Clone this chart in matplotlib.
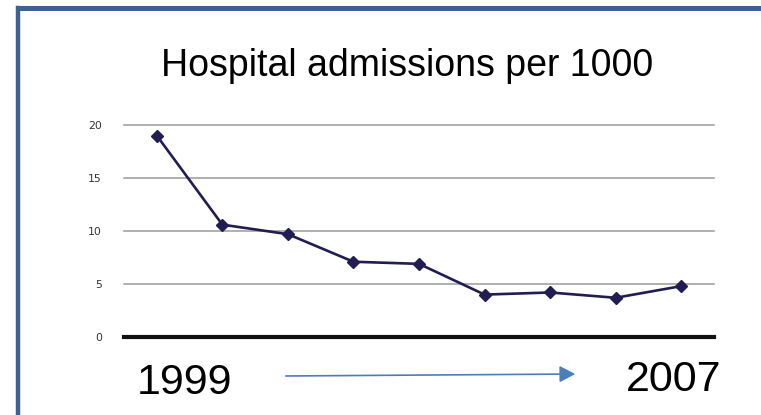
import matplotlib
matplotlib.use("Agg")
import matplotlib.pyplot as plt
from matplotlib.patches import FancyArrowPatch
from matplotlib.lines import Line2D

# Hospital admissions per 1000, yearly from 1999 to 2007
years = [1999, 2000, 2001, 2002, 2003, 2004, 2005, 2006, 2007]
admissions = [19.0, 10.6, 9.7, 7.1, 6.9, 4.0, 4.2, 3.7, 4.8]
y_ticks = [0, 5, 10, 15, 20]

W, H = 761, 415
fig = plt.figure(figsize=(W / 100, H / 100), dpi=100)
fig.patch.set_facecolor("white")

# frame around the slide
frame_col = "#3c6193"
fig.add_artist(Line2D([18 / W, 18 / W], [0, 1 - 8 / H], transform=fig.transFigure,
                      color=frame_col, lw=3.2, solid_capstyle="projecting"))
fig.add_artist(Line2D([18 / W, 1.01], [1 - 8.5 / H, 1 - 8.5 / H], transform=fig.transFigure,
                      color=frame_col, lw=3.6, solid_capstyle="projecting"))

left, right, top, bottom = 124, 714, 125, 337
ax = fig.add_axes([left / W, 1 - bottom / H, (right - left) / W, (bottom - top) / H])
x = list(range(len(years)))
ax.set_xlim(-0.5, len(years) - 0.5)
ax.set_ylim(0, 20)

for v in y_ticks[1:]:
    ax.axhline(v, color="#9a9a9a", lw=1.1, zorder=1, clip_on=False)
ax.axhline(0, color="#111111", lw=3.0, zorder=2, clip_on=False)

ax.plot(x, admissions, color="#211d52", lw=1.9, marker="D", markersize=6,
        markerfacecolor="#211d52", markeredgecolor="#211d52", zorder=3, clip_on=False)

for s in ax.spines.values():
    s.set_visible(False)
ax.set_xticks([])
ax.set_yticks(y_ticks)
ax.tick_params(axis="y", length=0, pad=16, labelsize=7.8, labelcolor="#333333")
ax.set_facecolor("none")

fig.text(407 / W, 1 - 66 / H, "Hospital admissions per 1000", ha="center", va="center",
         fontsize=27, family="Liberation Sans", color="black")

fig.text(184 / W, 1 - 383 / H, "1999", ha="center", va="center",
         fontsize=31, family="Liberation Sans", color="black")
fig.text(674 / W, 1 - 380 / H, "2007", ha="center", va="center",
         fontsize=31, family="Liberation Sans", color="black")

arrow = FancyArrowPatch((283 / W, 1 - 376 / H), (578 / W, 1 - 374 / H),
                        transform=fig.transFigure,
                        arrowstyle="-|>,head_length=9.5,head_width=5",
                        color="#4a7ebb", lw=1.2, mutation_scale=1)
fig.add_artist(arrow)

fig.savefig("out.png", dpi=100)
